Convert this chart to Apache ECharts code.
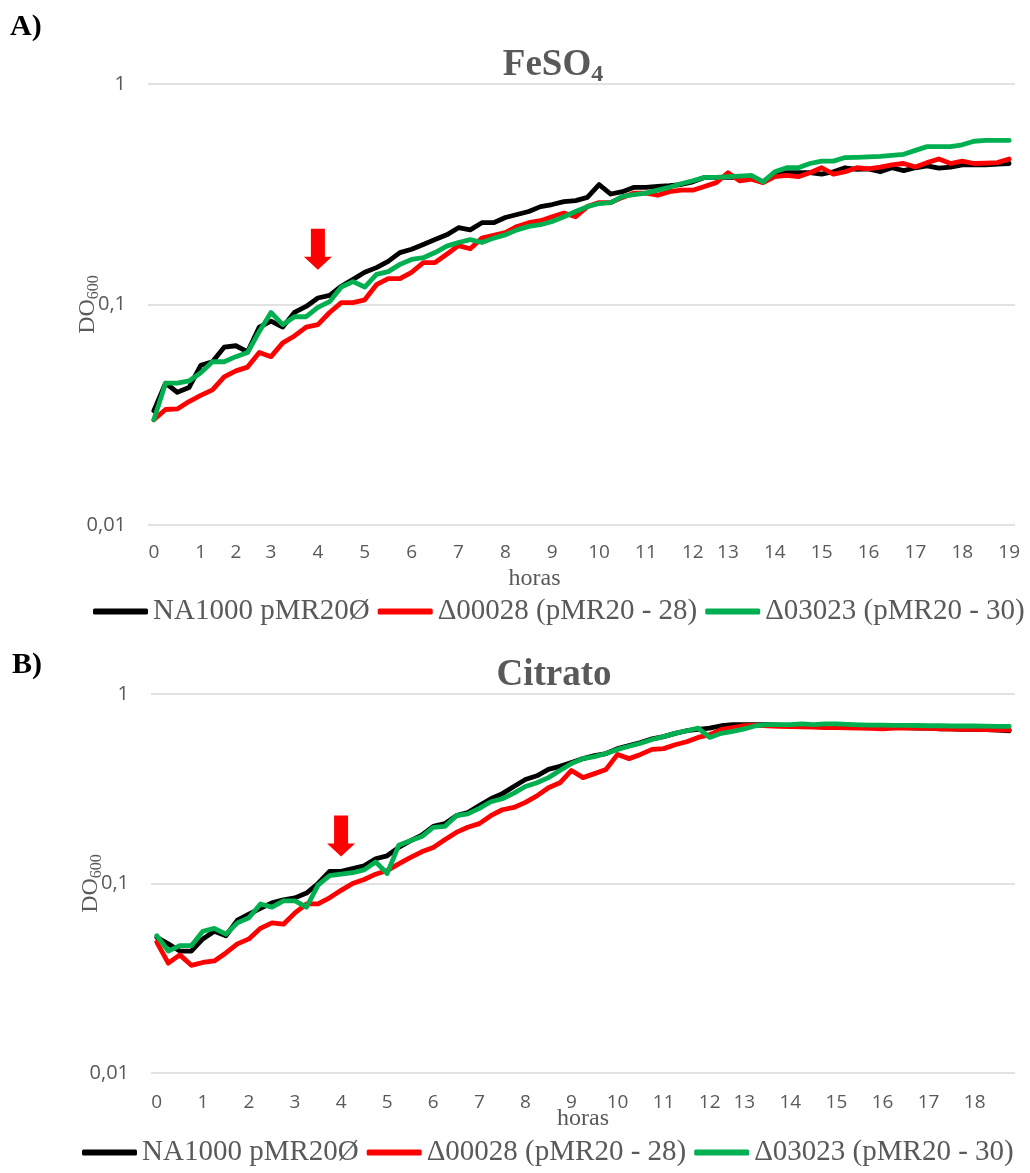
<!DOCTYPE html>
<html>
<head>
<meta charset="utf-8">
<script src="https://cdn.jsdelivr.net/npm/echarts@6/dist/echarts.min.js"></script>
<style>
  html, body { margin: 0; padding: 0; background: #ffffff; }
  #chart { width: 1030px; height: 1173px; }
</style>
</head>
<body>
<div id="chart"></div>
<script>
// ---------- Data ----------
const seriesNames = ['NA1000 pMR20Ø', 'Δ00028 (pMR20 - 28)', 'Δ03023 (pMR20 - 30)'];

// Panel A (FeSO4): 74 samples; tick labels at hour marks
const hoursA = ['0','','','','1','','','2','','','3','','','','4','','','','5','','','','6','','','','7','','','','8','','','','9','','','','10','','','','11','','','','12','','','13','','','','14','','','','15','','','','16','','','','17','','','','18','','','','19'];
const feso4_NA1000 = [0.033,0.044,0.040,0.042,0.053,0.055,0.064,0.065,0.061,0.079,0.084,0.079,0.092,0.098,0.107,0.110,0.121,0.130,0.140,0.147,0.157,0.172,0.178,0.187,0.197,0.207,0.223,0.218,0.235,0.235,0.248,0.256,0.264,0.278,0.284,0.293,0.296,0.306,0.350,0.317,0.325,0.340,0.340,0.343,0.346,0.350,0.360,0.377,0.377,0.377,0.377,0.380,0.360,0.390,0.396,0.396,0.396,0.390,0.400,0.417,0.410,0.412,0.400,0.417,0.405,0.417,0.425,0.415,0.420,0.430,0.430,0.430,0.433,0.436];
const feso4_D00028 = [0.030,0.0334,0.0336,0.0363,0.0387,0.041,0.047,0.050,0.052,0.0606,0.058,0.067,0.072,0.079,0.081,0.092,0.102,0.102,0.105,0.123,0.131,0.131,0.140,0.155,0.155,0.169,0.185,0.179,0.200,0.206,0.212,0.226,0.235,0.240,0.250,0.260,0.250,0.278,0.290,0.290,0.306,0.320,0.320,0.313,0.325,0.330,0.330,0.343,0.357,0.396,0.364,0.370,0.357,0.380,0.385,0.380,0.396,0.417,0.390,0.400,0.417,0.412,0.420,0.430,0.436,0.420,0.440,0.457,0.436,0.447,0.436,0.438,0.440,0.457];
const feso4_D03023 = [0.030,0.044,0.044,0.045,0.049,0.055,0.055,0.058,0.0606,0.0755,0.092,0.081,0.088,0.088,0.097,0.103,0.120,0.127,0.120,0.137,0.141,0.152,0.160,0.163,0.172,0.184,0.191,0.197,0.191,0.200,0.207,0.218,0.226,0.230,0.238,0.250,0.264,0.278,0.287,0.290,0.309,0.315,0.320,0.330,0.340,0.353,0.364,0.377,0.377,0.380,0.382,0.385,0.360,0.400,0.417,0.417,0.436,0.447,0.447,0.464,0.465,0.467,0.470,0.475,0.480,0.500,0.520,0.520,0.520,0.530,0.550,0.555,0.555,0.555];

// Panel B (Citrato): 75 samples
const hoursB = ['0','','','','1','','','','2','','','','3','','','','4','','','','5','','','','6','','','','7','','','','8','','','','9','','','','10','','','','11','','','','12','','','13','','','','14','','','','15','','','','16','','','','17','','','','18','','',''];
const citr_NA1000 = [0.052,0.048,0.044,0.044,0.051,0.056,0.053,0.064,0.069,0.074,0.079,0.082,0.084,0.089,0.100,0.116,0.116,0.120,0.124,0.135,0.140,0.155,0.168,0.180,0.200,0.207,0.228,0.237,0.258,0.280,0.298,0.325,0.354,0.370,0.400,0.415,0.435,0.456,0.473,0.485,0.515,0.535,0.555,0.580,0.596,0.620,0.640,0.650,0.660,0.680,0.690,0.690,0.690,0.690,0.685,0.680,0.680,0.680,0.675,0.675,0.670,0.670,0.670,0.668,0.665,0.665,0.660,0.660,0.655,0.655,0.650,0.650,0.648,0.645,0.640];
const citr_D00028 = [0.049,0.038,0.042,0.037,0.0383,0.039,0.043,0.048,0.051,0.058,0.062,0.061,0.070,0.078,0.078,0.084,0.092,0.100,0.105,0.112,0.117,0.127,0.137,0.147,0.155,0.170,0.186,0.198,0.207,0.228,0.245,0.252,0.268,0.290,0.320,0.340,0.395,0.362,0.380,0.400,0.480,0.456,0.480,0.510,0.515,0.540,0.560,0.590,0.610,0.650,0.665,0.680,0.685,0.680,0.675,0.672,0.670,0.668,0.665,0.665,0.662,0.660,0.658,0.655,0.660,0.662,0.660,0.658,0.655,0.652,0.650,0.650,0.648,0.646,0.645];
const citr_D03023 = [0.053,0.044,0.047,0.047,0.056,0.058,0.054,0.062,0.066,0.078,0.075,0.081,0.081,0.075,0.098,0.110,0.112,0.114,0.118,0.130,0.113,0.159,0.168,0.177,0.198,0.200,0.228,0.233,0.249,0.270,0.280,0.300,0.325,0.340,0.362,0.395,0.430,0.456,0.467,0.485,0.510,0.530,0.550,0.575,0.596,0.620,0.640,0.660,0.590,0.620,0.635,0.655,0.680,0.690,0.690,0.690,0.695,0.690,0.695,0.695,0.692,0.688,0.685,0.685,0.683,0.683,0.682,0.680,0.680,0.678,0.678,0.678,0.676,0.675,0.675];

// Arrow annotations (category index, OD value)
const arrowA = [14, 0.178];
const arrowB = [16, 0.178];

// ---------- Styles ----------
const colors = ['#000000', '#ff0000', '#00b050'];
const gray = '#595959';
const serif = '"Liberation Serif", "Times New Roman", serif';
const sans = '"Open Sans", "Noto Sans", sans-serif';
const arrowPath = 'path://M7,0 L21,0 L21,28 L28,28 L14,41 L0,28 L7,28 Z';

function yLabel(v) {
  if (v >= 1) return '1';
  return Number(v.toPrecision(1)).toString().replace('.', ',');
}

function xAxisFor(idx, cats, margin, nameGap, namePad) {
  return {
    type: 'category', gridIndex: idx, data: cats, boundaryGap: true,
    axisLine: { show: false }, axisTick: { show: false },
    axisLabel: {
      interval: function (i, v) { return v !== ''; },
      color: gray, fontSize: 19, fontFamily: sans, margin: margin
    },
    name: 'horas', nameLocation: 'middle', nameGap: nameGap, nameMoveOverlap: false,
    nameTextStyle: { color: gray, fontSize: 24, fontFamily: serif, padding: namePad }
  };
}

function yAxisFor(idx) {
  return {
    type: 'log', logBase: 10, gridIndex: idx, min: 0.01, max: 1,
    axisLine: { show: false }, axisTick: { show: false },
    axisLabel: { formatter: yLabel, color: gray, fontSize: 20, fontFamily: sans, margin: 22 },
    splitLine: { lineStyle: { color: '#d9d9d9', width: 1.5 } },
    name: '{a|DO}{b|600}', nameLocation: 'middle', nameGap: 46, nameRotate: 90, nameMoveOverlap: false,
    nameTextStyle: {
      rich: {
        a: { fontSize: 24, fontFamily: serif, color: gray, lineHeight: 28 },
        b: { fontSize: 16, fontFamily: serif, color: gray, lineHeight: 18, verticalAlign: 'bottom' }
      }
    }
  };
}

function lineSeries(name, data, color, gi, arrow) {
  const s = {
    name: name, type: 'line', xAxisIndex: gi, yAxisIndex: gi, data: data,
    showSymbol: false, symbol: 'none',
    lineStyle: { color: color, width: 4.8, join: 'round', cap: 'round' },
    itemStyle: { color: color }, z: 3
  };
  if (arrow) {
    s.markPoint = {
      silent: true,
      data: [{ coord: arrow, symbol: arrowPath, symbolSize: [28, 41], itemStyle: { color: '#ff0000' }, label: { show: false } }]
    };
  }
  return s;
}

function titleRich() {
  return {
    m: { fontSize: 37, fontWeight: 'bold', fontFamily: serif, color: gray, lineHeight: 44 },
    s: { fontSize: 24, fontWeight: 'bold', fontFamily: serif, color: gray, lineHeight: 24, verticalAlign: 'bottom' }
  };
}

const legendText = { color: gray, fontSize: 29, fontFamily: serif };

const option = {
  animation: false,
  backgroundColor: '#ffffff',
  title: [
    { text: '{m|FeSO}{s|4}', left: 548, textAlign: 'center', top: 38, textStyle: { rich: titleRich() } },
    { text: '{m|Citrato}', left: 549, textAlign: 'center', top: 648, textStyle: { rich: titleRich() } }
  ],
  graphic: [
    { type: 'text', left: 10, top: 12, style: { text: 'A)', font: 'bold 30px "Liberation Serif", serif', fill: '#000000' } },
    { type: 'text', left: 12, top: 650, style: { text: 'B)', font: 'bold 30px "Liberation Serif", serif', fill: '#000000' } }
  ],
  legend: [
    { data: seriesNames, left: 93, top: 597, width: 1000, padding: 0, icon: 'roundRect', itemWidth: 55, itemHeight: 6, itemGap: 8, textStyle: legendText },
    { data: seriesNames, left: 82, top: 1138, width: 1000, padding: 0, icon: 'roundRect', itemWidth: 55, itemHeight: 6, itemGap: 8, textStyle: legendText }
  ],
  grid: [
    { left: 148, top: 84, width: 867, height: 441 },
    { left: 151, top: 694, width: 864, height: 379 }
  ],
  xAxis: [
    xAxisFor(0, hoursA, 18, 42, [0, 94, 0, 0]),
    xAxisFor(1, hoursB, 20, 34, [0, 0, 0, 0])
  ],
  yAxis: [yAxisFor(0), yAxisFor(1)],
  series: [
    lineSeries(seriesNames[0], feso4_NA1000, colors[0], 0),
    lineSeries(seriesNames[1], feso4_D00028, colors[1], 0, arrowA),
    lineSeries(seriesNames[2], feso4_D03023, colors[2], 0),
    lineSeries(seriesNames[0], citr_NA1000, colors[0], 1),
    lineSeries(seriesNames[1], citr_D00028, colors[1], 1, arrowB),
    lineSeries(seriesNames[2], citr_D03023, colors[2], 1)
  ]
};

const chart = echarts.init(document.getElementById('chart'), null, { renderer: 'canvas' });
chart.setOption(option);
</script>
</body>
</html>
